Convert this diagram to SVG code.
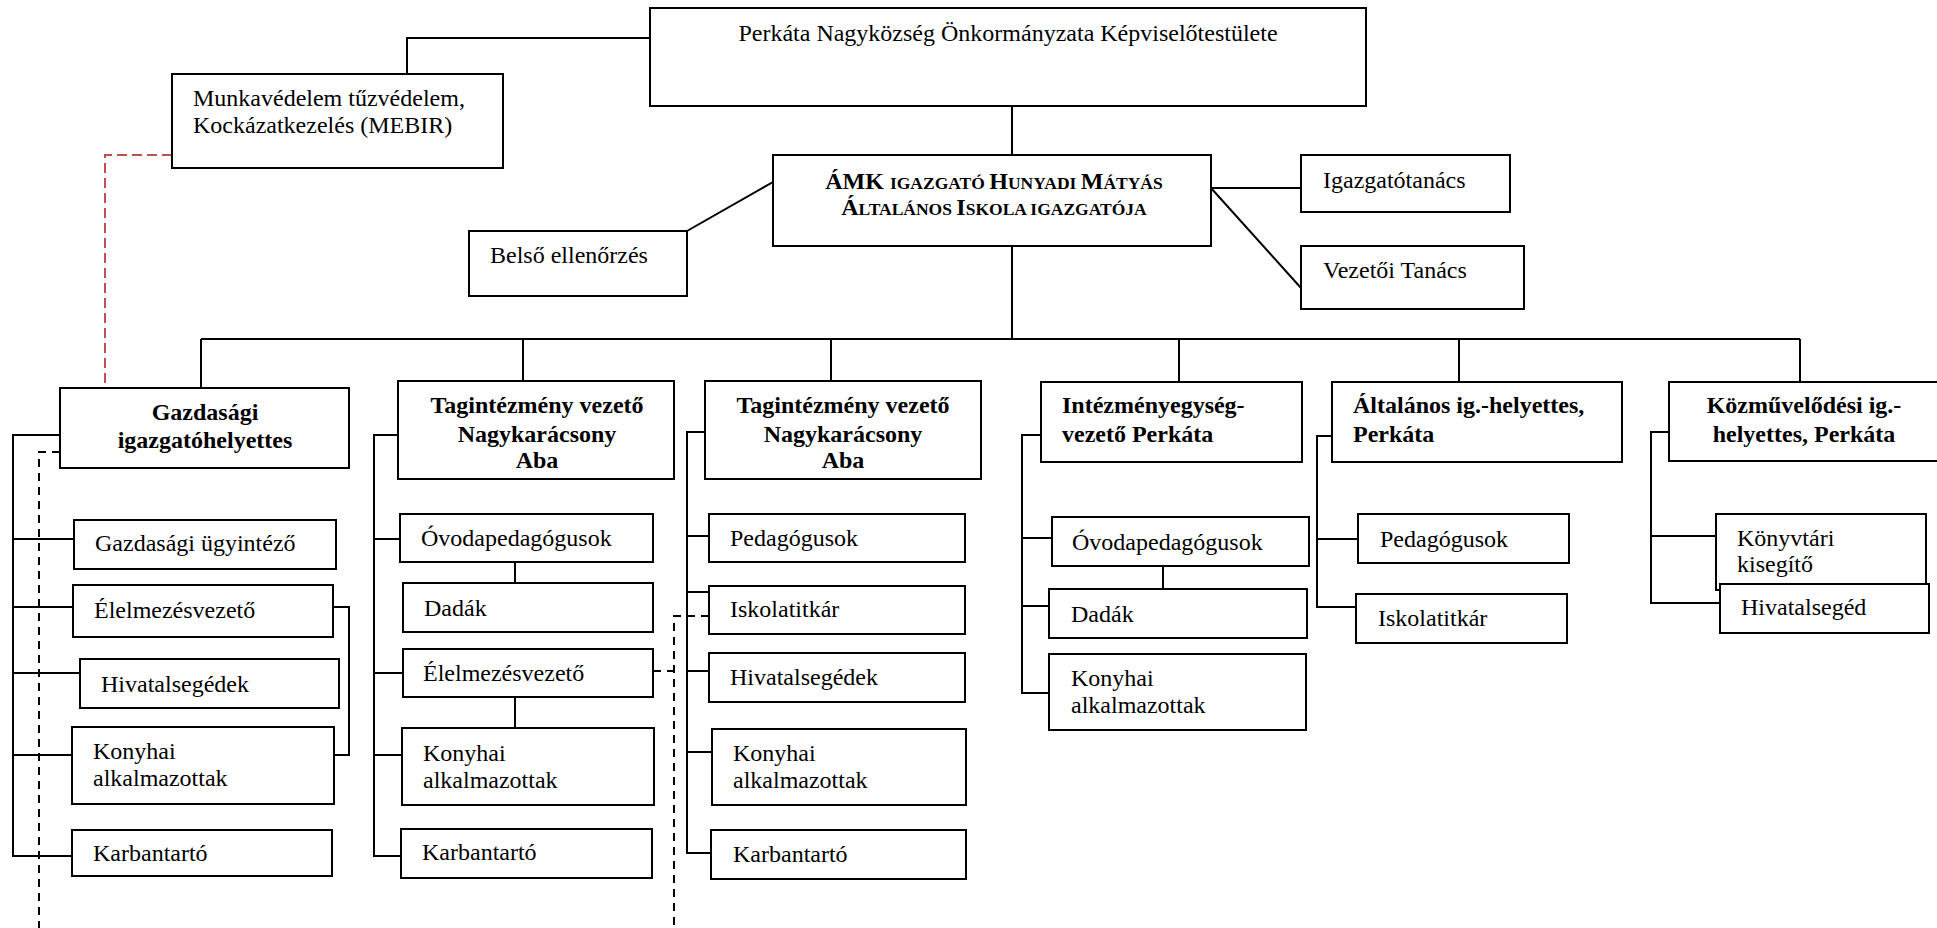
<svg xmlns="http://www.w3.org/2000/svg" width="1937" height="928" viewBox="0 0 1937 928">
<style>
.box{fill:#fff;stroke:#000;stroke-width:2}
.t{font-family:"Liberation Serif","Times New Roman",serif;font-size:24px;fill:#000}
.b{font-weight:bold}
.c{text-anchor:middle}
.sc{font-size:17.5px}
.ln{fill:none;stroke:#000;stroke-width:2}
.dash{fill:none;stroke:#000;stroke-width:2;stroke-dasharray:8 6}
.red{fill:none;stroke:#c0504d;stroke-width:2;stroke-dasharray:10 5}
</style>
<rect width="1937" height="928" fill="#fff"/>
<g id="connectors">
<path class="ln" d="M407,74 V38 H650"/>
<path class="ln" d="M1012,106 V155"/>
<path class="ln" d="M1012,246 V339"/>
<path class="ln" d="M201,339 H1800"/>
<path class="ln" d="M201,339 V388 M523,339 V381 M831,339 V381 M1179,339 V382 M1459,339 V382 M1800,339 V382"/>
<path class="ln" d="M687,231 L773,182"/>
<path class="ln" d="M1211,188 H1301"/>
<path class="ln" d="M1211,188 L1301,288"/>
<path class="ln" d="M60,435 H13 V856 H72 M13,539 H74 M13,607 H73 M13,673 H80 M13,755 H72"/>
<path class="ln" d="M333,607 H349 V755 H334"/>
<path class="ln" d="M398,435 H374 V856 H401 M374,539 H400 M374,673 H403 M374,755 H402"/>
<path class="ln" d="M515,562 V583 M515,697 V728"/>
<path class="ln" d="M705,432 H687 V853 H711 M687,536 H709 M687,592 H709 M687,671 H709 M687,752 H712"/>
<path class="ln" d="M1041,435 H1022 V693 H1049 M1022,538 H1052 M1022,606 H1049"/>
<path class="ln" d="M1163,566 V589"/>
<path class="ln" d="M1332,436 H1317 V607 H1356 M1317,539 H1358"/>
<path class="ln" d="M1669,432 H1651 V603 H1720 M1651,536 H1716"/>
<path class="dash" d="M60,452 H39 V928"/>
<path class="dash" d="M709,616 H674 V928 M653,671 H674"/>
<path class="red" d="M172,155 H105 V388"/>
</g>
<g id="perkata"><rect class="box" x="650" y="8" width="716" height="98"/><text class="t c" x="1008" y="41">Perkáta Nagyközség Önkormányzata Képviselőtestülete</text></g>
<g id="munka"><rect class="box" x="172" y="74" width="331" height="94"/><text class="t" x="193" y="106">Munkavédelem tűzvédelem,</text><text class="t" x="193" y="133">Kockázatkezelés (MEBIR)</text></g>
<g id="amk"><rect class="box" x="773" y="155" width="438" height="91"/>
<text class="t b c" x="994" y="189">ÁMK <tspan class="sc">IGAZGATÓ </tspan>H<tspan class="sc">UNYADI </tspan>M<tspan class="sc">ÁTYÁS</tspan></text>
<text class="t b c" x="994" y="215">Á<tspan class="sc">LTALÁNOS </tspan>I<tspan class="sc">SKOLA IGAZGATÓJA</tspan></text></g>
<g id="belso"><rect class="box" x="469" y="231" width="218" height="65"/><text class="t" x="490" y="263">Belső ellenőrzés</text></g>
<g id="igazgatotanacs"><rect class="box" x="1301" y="155" width="209" height="57"/><text class="t" x="1323" y="188">Igazgatótanács</text></g>
<g id="vezetoi"><rect class="box" x="1301" y="246" width="223" height="63"/><text class="t" x="1323" y="278">Vezetői Tanács</text></g>
<g id="gazdasagi"><rect class="box" x="60" y="388" width="289" height="80"/><text class="t b c" x="205" y="420">Gazdasági</text><text class="t b c" x="205" y="448">igazgatóhelyettes</text></g>
<g id="tagint1"><rect class="box" x="398" y="381" width="276" height="98"/><text class="t b c" x="537" y="413">Tagintézmény vezető</text><text class="t b c" x="537" y="442">Nagykarácsony</text><text class="t b c" x="537" y="468">Aba</text></g>
<g id="tagint2"><rect class="box" x="705" y="381" width="276" height="98"/><text class="t b c" x="843" y="413">Tagintézmény vezető</text><text class="t b c" x="843" y="442">Nagykarácsony</text><text class="t b c" x="843" y="468">Aba</text></g>
<g id="intezmeny"><rect class="box" x="1041" y="382" width="261" height="80"/><text class="t b" x="1062" y="413">Intézményegység-</text><text class="t b" x="1062" y="442">vezető Perkáta</text></g>
<g id="altalanos"><rect class="box" x="1332" y="382" width="290" height="80"/><text class="t b" x="1353" y="413">Általános ig.-helyettes,</text><text class="t b" x="1353" y="442">Perkáta</text></g>
<g id="kozmuvelodesi"><rect class="box" x="1669" y="382" width="272" height="79"/><text class="t b c" x="1804" y="413">Közművelődési ig.-</text><text class="t b c" x="1804" y="442">helyettes, Perkáta</text></g>
<g id="gazd-ugyintezo"><rect class="box" x="74" y="520" width="262" height="49"/><text class="t" x="95" y="551">Gazdasági ügyintéző</text></g>
<g id="gazd-elelmezes"><rect class="box" x="73" y="585" width="260" height="52"/><text class="t" x="94" y="618">Élelmezésvezető</text></g>
<g id="gazd-hivatalsegedek"><rect class="box" x="80" y="659" width="259" height="49"/><text class="t" x="101" y="692">Hivatalsegédek</text></g>
<g id="gazd-konyhai"><rect class="box" x="72" y="727" width="262" height="77"/><text class="t" x="93" y="759">Konyhai</text><text class="t" x="93" y="786">alkalmazottak</text></g>
<g id="gazd-karbantarto"><rect class="box" x="72" y="830" width="260" height="46"/><text class="t" x="93" y="861">Karbantartó</text></g>
<g id="t1-ovoda"><rect class="box" x="400" y="514" width="253" height="48"/><text class="t" x="421" y="546">Óvodapedagógusok</text></g>
<g id="t1-dadak"><rect class="box" x="403" y="583" width="250" height="49"/><text class="t" x="424" y="616">Dadák</text></g>
<g id="t1-elelmezes"><rect class="box" x="403" y="649" width="250" height="48"/><text class="t" x="423" y="681">Élelmezésvezető</text></g>
<g id="t1-konyhai"><rect class="box" x="402" y="728" width="252" height="77"/><text class="t" x="423" y="761">Konyhai</text><text class="t" x="423" y="788">alkalmazottak</text></g>
<g id="t1-karbantarto"><rect class="box" x="401" y="829" width="251" height="49"/><text class="t" x="422" y="860">Karbantartó</text></g>
<g id="t2-pedagogusok"><rect class="box" x="709" y="514" width="256" height="48"/><text class="t" x="730" y="546">Pedagógusok</text></g>
<g id="t2-iskolatitkar"><rect class="box" x="709" y="586" width="256" height="48"/><text class="t" x="730" y="617">Iskolatitkár</text></g>
<g id="t2-hivatalsegedek"><rect class="box" x="709" y="653" width="256" height="49"/><text class="t" x="730" y="685">Hivatalsegédek</text></g>
<g id="t2-konyhai"><rect class="box" x="712" y="729" width="254" height="76"/><text class="t" x="733" y="761">Konyhai</text><text class="t" x="733" y="788">alkalmazottak</text></g>
<g id="t2-karbantarto"><rect class="box" x="711" y="830" width="255" height="49"/><text class="t" x="733" y="862">Karbantartó</text></g>
<g id="i-ovoda"><rect class="box" x="1052" y="517" width="257" height="49"/><text class="t" x="1072" y="550">Óvodapedagógusok</text></g>
<g id="i-dadak"><rect class="box" x="1049" y="589" width="258" height="49"/><text class="t" x="1071" y="622">Dadák</text></g>
<g id="i-konyhai"><rect class="box" x="1049" y="654" width="257" height="76"/><text class="t" x="1071" y="686">Konyhai</text><text class="t" x="1071" y="713">alkalmazottak</text></g>
<g id="a-pedagogusok"><rect class="box" x="1358" y="514" width="211" height="49"/><text class="t" x="1380" y="547">Pedagógusok</text></g>
<g id="a-iskolatitkar"><rect class="box" x="1356" y="594" width="211" height="49"/><text class="t" x="1378" y="626">Iskolatitkár</text></g>
<g id="k-konyvtari"><rect class="box" x="1716" y="514" width="210" height="76"/><text class="t" x="1737" y="546">Könyvtári</text><text class="t" x="1737" y="572">kisegítő</text></g>
<g id="k-hivatalseged"><rect class="box" x="1720" y="584" width="209" height="49"/><text class="t" x="1741" y="615">Hivatalsegéd</text></g>
</svg>
